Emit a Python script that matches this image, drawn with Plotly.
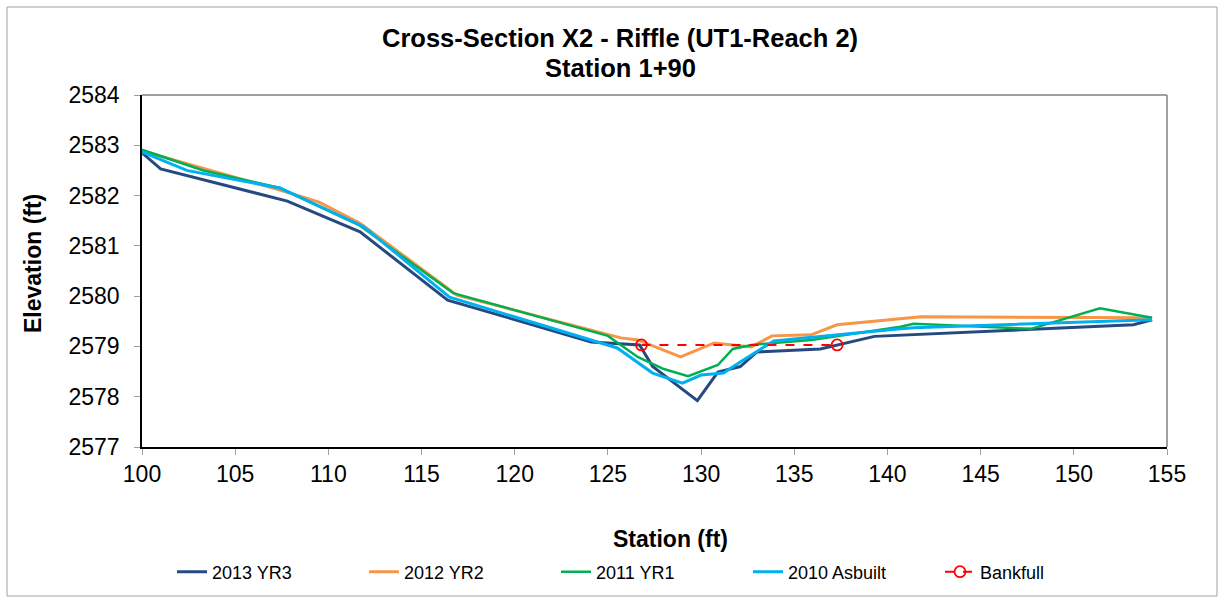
import plotly.graph_objects as go

# 2013 YR3
x_2013 = [100, 101, 107.8, 111.7, 116.4, 124.1, 126.7, 127.4, 129.8, 130.9, 132.1, 133.0, 136.4, 137.3, 139.3, 153.2, 154.2]
y_2013 = [2582.85, 2582.53, 2581.89, 2581.28, 2579.92, 2579.09, 2579.03, 2578.6, 2577.92, 2578.49, 2578.6, 2578.89, 2578.95, 2579.03, 2579.2, 2579.43, 2579.53]

# 2012 YR2
x_2012 = [100, 107.4, 109.5, 111.7, 116.9, 122.4, 125.7, 126.6, 128.9, 130.7, 132.7, 133.8, 135.9, 137.3, 141.8, 154.2]
y_2012 = [2582.89, 2582.11, 2581.87, 2581.45, 2580.02, 2579.49, 2579.17, 2579.13, 2578.79, 2579.07, 2578.99, 2579.21, 2579.23, 2579.43, 2579.59, 2579.57]

# 2011 YR1
x_2011 = [100, 103.3, 107.4, 111.7, 116.7, 125.0, 126.6, 128.0, 129.3, 130.9, 131.7, 132.7, 135.9, 140.7, 141.4, 147.7, 151.4, 154.2]
y_2011 = [2582.91, 2582.5, 2582.15, 2581.4, 2580.06, 2579.21, 2578.79, 2578.55, 2578.41, 2578.63, 2578.95, 2579.03, 2579.13, 2579.39, 2579.45, 2579.35, 2579.76, 2579.57]

# 2010 Asbuilt
x_2010 = [100, 102.4, 107.4, 111.9, 116.5, 125.5, 127.4, 129.0, 130.0, 131.2, 132.1, 133.9, 140.7, 141.4, 154.2]
y_2010 = [2582.87, 2582.5, 2582.15, 2581.38, 2579.98, 2578.97, 2578.47, 2578.27, 2578.43, 2578.47, 2578.69, 2579.11, 2579.35, 2579.37, 2579.53]

# Bankfull
x_bkf = [126.8, 137.3]
y_bkf = [2579.03, 2579.03]

title_lines = ["Cross-Section X2 - Riffle (UT1-Reach 2)", "Station 1+90"]
x_title = "Station (ft)"
y_title = "Elevation (ft)"

FONT = "Liberation Sans, Arial, sans-serif"

fig = go.Figure()
fig.add_trace(go.Scatter(x=x_2013, y=y_2013, mode="lines", name="2013 YR3",
                         line=dict(color="#254A80", width=3)))
fig.add_trace(go.Scatter(x=x_2012, y=y_2012, mode="lines", name="2012 YR2",
                         line=dict(color="#F79646", width=3)))
fig.add_trace(go.Scatter(x=x_2011, y=y_2011, mode="lines", name="2011 YR1",
                         line=dict(color="#00B050", width=2.5)))
fig.add_trace(go.Scatter(x=x_2010, y=y_2010, mode="lines", name="2010 Asbuilt",
                         line=dict(color="#00B0F0", width=3)))
fig.add_trace(go.Scatter(x=x_bkf, y=y_bkf, mode="lines+markers", name="Bankfull",
                         line=dict(color="#FF0000", width=2, dash="dash"),
                         marker=dict(symbol="circle-open", size=11, color="#FF0000",
                                     line=dict(width=1.8, color="#FF0000"))))

L, R, T, B = 142, 54, 95, 152
W, H = 1221, 599
pw = W - L - R
ph = H - T - B

def px2x(px):
    return (px - L) / pw

def py2y(py):
    return (H - B - py) / ph

fig.update_layout(
    width=W, height=H,
    margin=dict(l=L, r=R, t=T, b=B, autoexpand=False),
    paper_bgcolor="white", plot_bgcolor="white",
    font=dict(family=FONT, color="black"),
    showlegend=True,
    legend=dict(orientation="h", x=px2x(172), xanchor="left", y=py2y(572), yanchor="middle",
                font=dict(size=18, family=FONT), entrywidth=147, entrywidthmode="pixels",
                tracegroupgap=0, bgcolor="rgba(0,0,0,0)"),
    xaxis=dict(range=[100, 155], dtick=5, tick0=100, showgrid=False, zeroline=False,
               showline=True, linecolor="black", linewidth=1.5, mirror=False,
               ticks="outside", ticklen=6, tickcolor="#A0A0A0",
               tickfont=dict(size=23, family=FONT)),
    yaxis=dict(range=[2577, 2584], dtick=1, showgrid=False, zeroline=False,
               showline=True, linecolor="black", linewidth=1.5, mirror=False,
               ticks="outside", ticklen=6, tickcolor="#A0A0A0", ticklabelstandoff=10,
               tickfont=dict(size=23, family=FONT)),
)

# plot box top/right gray lines
fig.add_shape(type="line", xref="paper", yref="paper", x0=0, x1=1, y0=1, y1=1,
              line=dict(color="#808080", width=1.5))
fig.add_shape(type="line", xref="paper", yref="paper", x0=1, x1=1, y0=0, y1=1,
              line=dict(color="#808080", width=1.5))
# outer chart border
fig.add_shape(type="rect", xref="paper", yref="paper",
              x0=px2x(7), x1=px2x(1217), y0=py2y(596), y1=py2y(7),
              line=dict(color="#A0A0A0", width=1))

fig.add_annotation(text="<b>" + title_lines[0] + "</b>",
                   xref="paper", yref="paper", x=px2x(620), y=py2y(38),
                   xanchor="center", yanchor="middle", showarrow=False,
                   font=dict(size=25.5, family=FONT))
fig.add_annotation(text="<b>" + title_lines[1] + "</b>",
                   xref="paper", yref="paper", x=px2x(620), y=py2y(68),
                   xanchor="center", yanchor="middle", showarrow=False,
                   font=dict(size=25.5, family=FONT))
fig.add_annotation(text="<b>" + x_title + "</b>", xref="paper", yref="paper",
                   x=px2x(670), y=py2y(539), xanchor="center", yanchor="middle",
                   showarrow=False, font=dict(size=23, family=FONT))
fig.add_annotation(text="<b>" + y_title + "</b>", xref="paper", yref="paper",
                   x=px2x(33), y=py2y(264), xanchor="center", yanchor="middle",
                   textangle=-90, showarrow=False, font=dict(size=23, family=FONT))

fig.write_html("out.html", config={"displayModeBar": False},
               post_script="document.body.style.margin='0';document.body.style.overflow='hidden';")
